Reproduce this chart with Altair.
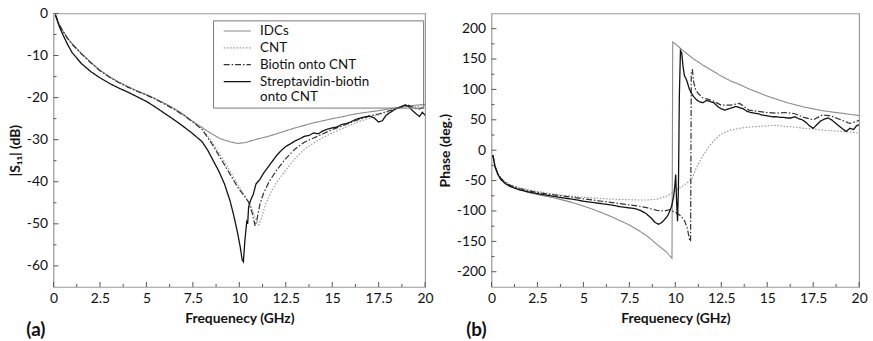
import altair as alt
import pandas as pd

SERIES = ["IDCs", "CNT", "Biotin onto CNT", "Streptavidin-biotin onto CNT"]
COLORS = ["#8a8a8a", "#9c9c9c", "#333333", "#111111"]
DASHES = [[1, 0], [1.6, 1.6], [6, 2, 1.5, 2], [1, 0]]
WIDTHS = [1.1, 1.3, 1.2, 2.6]

X_MAJOR = [0, 2.5, 5, 7.5, 10, 12.5, 15, 17.5, 20]
X_MINOR = [1.25, 3.75, 6.25, 8.75, 11.25, 13.75, 16.25, 18.75]

# ---------------- panel (a): |S11| (dB) ----------------
A_IDC_F = [0.1, 0.3, 0.5, 0.75, 1, 1.5, 2, 2.5, 3, 3.5, 4, 4.5, 5, 5.5, 6, 6.5, 7, 7.5, 8, 8.5, 9, 9.5, 9.9,
           10.3, 10.7, 11, 11.5, 12, 12.5, 13, 13.5, 14, 14.5, 15, 15.5, 16, 16.5, 17, 17.5, 18, 18.5, 19, 19.5, 20]
A_IDC_V = [-0.3, -2.5, -4.1, -5.8, -7.2, -9.5, -11.6, -13.5, -15.0, -16.3, -17.4, -18.4, -19.3, -20.3, -21.4,
           -22.6, -24.0, -25.7, -27.1, -28.6, -29.8, -30.5, -30.9, -30.7, -30.2, -29.8, -29.3, -28.6, -27.9,
           -27.2, -26.6, -26.0, -25.5, -25.0, -24.6, -24.1, -23.7, -23.4, -23.1, -22.7, -22.4, -22.1, -21.8, -21.6]

A_CNT_F = [0.1, 0.3, 0.5, 0.75, 1, 1.5, 2, 2.5, 3, 3.5, 4, 4.5, 5, 5.5, 6, 6.5, 7, 7.5, 8, 8.5, 9, 9.5, 9.9,
           10.3, 10.6, 10.85, 11.05, 11.2, 11.4, 11.7, 12, 12.5, 13, 13.5, 14, 14.5, 15, 15.5, 16, 16.5, 17,
           17.5, 18, 18.5, 19, 19.5, 20]
A_CNT_V = [-0.3, -2.5, -4.1, -5.8, -7.2, -9.5, -11.6, -13.5, -15.0, -16.3, -17.4, -18.4, -19.3, -20.3, -21.5,
           -22.7, -24.1, -25.7, -27.4, -30.3, -33.8, -37.4, -40.5, -43.4, -45.6, -48.5, -50.2, -48.5, -45.5,
           -42.5, -40.2, -37.2, -34.5, -32.3, -30.8, -29.5, -28.4, -27.4, -26.5, -25.6, -24.9, -24.1, -23.4,
           -22.6, -22.1, -22.2, -21.8]

A_BIO_F = [0.1, 0.3, 0.5, 0.75, 1, 1.5, 2, 2.5, 3, 3.5, 4, 4.5, 5, 5.5, 6, 6.5, 7, 7.5, 8, 8.5, 9, 9.5, 9.9,
           10.2, 10.5, 10.7, 10.85, 10.95, 11.1, 11.3, 11.6, 12, 12.5, 13, 13.5, 14, 14.5, 15, 15.5, 16, 16.5,
           17, 17.5, 18, 18.5, 19, 19.3, 19.6, 20]
A_BIO_V = [-0.3, -2.6, -4.2, -5.9, -7.3, -9.6, -11.7, -13.6, -15.1, -16.4, -17.5, -18.5, -19.4, -20.4, -21.6,
           -22.8, -24.2, -25.8, -27.6, -30.8, -34.5, -38.2, -41.2, -43.0, -44.8, -47.5, -50.5, -49.0, -45.5,
           -42.8, -40.0, -37.3, -34.5, -32.2, -30.6, -29.6, -28.6, -27.6, -26.8, -25.9, -25.1, -24.4, -23.9,
           -23.2, -22.6, -21.6, -22.2, -22.8, -22.3]

A_STR_F = [0.1, 0.3, 0.5, 0.75, 1, 1.5, 2, 2.5, 3, 3.5, 4, 4.5, 5, 5.5, 6, 6.5, 7, 7.5, 8, 8.3, 8.6, 8.9, 9.2,
           9.5, 9.7, 9.9, 10.05, 10.15, 10.22, 10.3, 10.4, 10.45, 10.5, 10.6, 10.75, 10.9, 11.1, 11.3, 11.5,
           11.75, 12, 12.25, 12.5, 12.75, 13, 13.25, 13.5, 13.75, 14, 14.25, 14.5, 14.75, 15, 15.25, 15.5,
           15.75, 16, 16.25, 16.5, 16.75, 17, 17.25, 17.5, 17.7, 17.9, 18.1, 18.3, 18.5, 18.7, 18.9, 19.1,
           19.3, 19.5, 19.7, 19.85, 20]
A_STR_V = [-0.3, -3.0, -5.0, -7.3, -9.3, -11.9, -13.8, -15.3, -16.6, -17.7, -18.7, -19.8, -20.9, -22.3, -23.8,
           -25.3, -26.9, -28.6, -30.5, -32.5, -35.0, -37.5, -40.5, -44.5, -48.0, -52.0, -55.5, -58.5, -59.0,
           -54.0, -49.5, -50.0, -46.0, -44.5, -43.0, -40.5, -39.5, -38.0, -36.8, -35.3, -33.8, -32.6, -31.6,
           -31.0, -30.3, -29.8, -29.2, -29.0, -28.4, -28.6, -27.9, -27.5, -27.2, -27.0, -26.4, -26.2, -25.8,
           -25.2, -24.9, -24.6, -24.4, -24.8, -25.8, -25.5, -24.2, -23.6, -23.0, -22.5, -22.2, -21.8, -22.0,
           -23.0, -23.8, -24.5, -23.5, -24.2]

# ---------------- panel (b): Phase (deg.) ----------------
B_IDC_F = [0.07, 0.2, 0.35, 0.5, 0.75, 1, 1.5, 2, 2.5, 3, 3.5, 4, 4.5, 5, 5.5, 6, 6.5, 7, 7.5, 8, 8.5, 9, 9.5,
           9.82, 9.86, 10, 10.5, 11, 11.5, 12, 12.5, 13, 13.5, 14, 14.5, 15, 15.5, 16, 16.5, 17, 17.5, 18,
           18.5, 19, 19.5, 20]
B_IDC_V = [-8, -28, -40, -47, -54, -59, -65, -69.5, -73, -76, -79, -83, -87, -92, -97, -103, -109, -116, -123,
           -132, -142, -155, -167, -178, 178, 175, 162, 150, 140, 131, 122, 114, 108, 101, 95, 89, 84, 79, 75,
           71, 68, 65, 63, 61, 59, 57]

B_CNT_F = [0.07, 0.2, 0.35, 0.5, 0.75, 1, 1.5, 2, 2.5, 3, 3.5, 4, 4.5, 5, 5.5, 6, 6.5, 7, 7.5, 8, 8.5, 9, 9.5,
           10, 10.5, 10.9, 11.1, 11.3, 11.5, 11.8, 12, 12.25, 12.5, 12.75, 13, 13.5, 14, 14.5, 15, 15.5, 16,
           16.5, 17, 17.5, 18, 18.5, 19, 19.5, 20]
B_CNT_V = [-8, -26, -38, -45, -52, -56.5, -61.5, -65, -68, -70.5, -72.5, -74.5, -76, -77.5, -78.5, -79.5, -80.5,
           -81, -81.5, -82, -82, -80.5, -76, -67, -57, -47, -32, -20, -9, 5, 12, 20, 26, 30, 33, 36, 38, 39,
           40, 41, 39, 38, 36, 35, 33, 32, 31, 30, 28]

B_BIO_F = [0.07, 0.2, 0.35, 0.5, 0.75, 1, 1.5, 2, 2.5, 3, 3.5, 4, 4.5, 5, 5.5, 6, 6.5, 7, 7.5, 8, 8.5, 9, 9.4,
           9.7, 9.9, 10.1, 10.3, 10.5, 10.65, 10.78, 10.83, 10.87, 10.93, 11.0, 11.1, 11.25, 11.5, 11.75, 12,
           12.5, 13, 13.5, 14, 14.5, 15, 15.5, 16, 16.5, 17, 17.5, 18, 18.5, 19, 19.5, 20]
B_BIO_V = [-8, -27, -39, -46, -53, -57.5, -63, -66.5, -69.5, -72, -74, -76, -78, -80, -82, -84, -86, -88, -90,
           -92, -95, -99, -100, -98, -101, -104, -108, -116, -128, -148, -150, 130, 132, 112, 100, 93, 86, 84,
           82, 74, 74, 77, 66, 64, 62, 61, 62, 60, 54, 50, 58, 56, 50, 44, 49]

B_STR_F = [0.07, 0.2, 0.35, 0.5, 0.75, 1, 1.5, 2, 2.5, 3, 3.5, 4, 4.5, 5, 5.5, 6, 6.5, 7, 7.5, 7.8, 8.1, 8.4,
           8.7, 8.9, 9.1, 9.3, 9.45, 9.6, 9.7, 9.8, 9.9, 9.97, 10.02, 10.07, 10.12, 10.17, 10.22, 10.28,
           10.35, 10.42, 10.5, 10.58, 10.65, 10.75, 10.85, 11, 11.15, 11.3, 11.5, 11.7, 11.9, 12.1, 12.3, 12.5,
           12.7, 12.9, 13.1, 13.3, 13.5, 13.7, 13.9, 14.1, 14.3, 14.5, 14.7, 14.9, 15.1, 15.3, 15.5, 15.7,
           15.9, 16.1, 16.3, 16.5, 16.7, 16.9, 17.1, 17.3, 17.5, 17.7, 17.9, 18.1, 18.3, 18.5, 18.7, 18.9,
           19.1, 19.3, 19.5, 19.7, 19.85, 20]
B_STR_V = [-8, -28, -40, -48, -55, -59.5, -65, -68.5, -71.5, -74, -76.5, -79, -81, -84, -86, -88, -90, -93, -95,
           -96, -99, -104, -112, -119, -122, -118, -113, -107, -100, -92, -78, -60, -40, -85, -117, -60, 90,
           164, 160, 138, 122, 118, 112, 102, 95, 88, 83, 80, 78, 82, 80, 78, 72, 68, 66, 68, 70, 72, 70, 68,
           64, 62, 61, 60, 58, 57, 56, 55, 55, 54, 54, 53, 53, 55, 52, 50, 46, 40, 36, 42, 48, 51, 53, 50, 45,
           40, 35, 31, 36, 34, 40, 42]

A_Y_MAJOR = [0, -10, -20, -30, -40, -50, -60]
A_Y_MINOR = [-5, -15, -25, -35, -45, -55]
B_Y_MAJOR = [200, 150, 100, 50, 0, -50, -100, -150, -200]
B_Y_MINOR = [175, 125, 75, 25, -25, -75, -125, -175]


def make_df(groups):
    rows = []
    for name, fs, vs in groups:
        for i, (f, v) in enumerate(zip(fs, vs)):
            rows.append({"series": name, "f": f, "v": v, "idx": i})
    return pd.DataFrame(rows)


df_a = make_df([(SERIES[0], A_IDC_F, A_IDC_V), (SERIES[1], A_CNT_F, A_CNT_V),
                (SERIES[2], A_BIO_F, A_BIO_V), (SERIES[3], A_STR_F, A_STR_V)])
df_b = make_df([(SERIES[0], B_IDC_F, B_IDC_V), (SERIES[1], B_CNT_F, B_CNT_V),
                (SERIES[2], B_BIO_F, B_BIO_V), (SERIES[3], B_STR_F, B_STR_V)])

FONT = "Lato"
TICKC = "#555555"
PAD = "\u2800"


def panel(df, ydom, ymaj, ymin, ytitle, label, label_dx, W, H, legend):
    xs = alt.Scale(domain=[0, 20], nice=False, zero=False)
    ys = alt.Scale(domain=ydom, nice=False, zero=False)
    if legend:
        leg = alt.Legend(title=None, orient="none", legendX=161, legendY=7,
                         symbolType="M0,0H5", symbolSize=120, labelFontSize=13.5, labelFont=FONT,
                         labelColor="#111", strokeColor="#777", padding=4, rowPadding=2,
                         labelLimit=400, labelOffset=30,
                         labelExpr="datum.label == 'Streptavidin-biotin onto CNT' ? ['Streptavidin-biotin" + PAD * 5 + "', 'onto CNT'] : datum.label")
    else:
        leg = None
    xt = "Frequenecy (GHz)"
    xaxis = alt.Axis(values=X_MAJOR, ticks=False, domain=False, grid=False, labelPadding=5,
                     titlePadding=6, labelFlush=False, labelExpr="'' + datum.value", title=xt)
    yaxis = alt.Axis(values=ymaj, ticks=False, domain=False, grid=False, labelPadding=6,
                     titlePadding=4, labelExpr="'' + datum.value", title=ytitle)
    lines = alt.Chart(df).mark_line(clip=True).encode(
        x=alt.X("f:Q", scale=xs, axis=xaxis),
        y=alt.Y("v:Q", scale=ys, axis=yaxis),
        color=alt.Color("series:N", scale=alt.Scale(domain=SERIES, range=COLORS), legend=leg),
        strokeDash=alt.StrokeDash("series:N", scale=alt.Scale(domain=SERIES, range=DASHES), legend=leg),
        strokeWidth=alt.StrokeWidth("series:N", scale=alt.Scale(domain=SERIES, range=WIDTHS), legend=leg),
        order=alt.Order("idx:Q"),
    )
    layers = [lines]
    for vals, size in ((X_MAJOR, 5), (X_MINOR, 3)):
        layers.append(alt.Chart(pd.DataFrame({"f": vals})).mark_rule(color=TICKC, strokeWidth=1).encode(
            x=alt.X("f:Q", scale=xs, axis=xaxis), y=alt.value(H), y2=alt.value(H - size)))
    for vals, size in ((ymaj, 5), (ymin, 3)):
        layers.append(alt.Chart(pd.DataFrame({"v": vals})).mark_rule(color=TICKC, strokeWidth=1).encode(
            y=alt.Y("v:Q", scale=ys, axis=yaxis), x=alt.value(0), x2=alt.value(size)))
    return alt.layer(*layers).properties(
        width=W, height=H,
        title=alt.TitleParams(text=label, orient="bottom", anchor="start", frame="bounds", fontSize=19,
                              fontWeight="bold", font=FONT, dx=label_dx, offset=-4, color="#111"),
    )


pa = panel(df_a, [-65, 0], A_Y_MAJOR, A_Y_MINOR, "|S₁₁| (dB)", "(a)", 18, 375, 276, True)
pb = panel(df_b, [-225, 225], B_Y_MAJOR, B_Y_MINOR, "Phase (deg.)", "(b)", 28, 371, 276, False)

chart = alt.hconcat(pa, pb, spacing=3).configure(
    padding={"left": 7, "top": 4, "right": 5, "bottom": 0},
).configure_view(stroke="#999999", strokeWidth=1.2).configure_axis(
    labelFont=FONT, labelFontSize=14, labelColor="#111", titleFont=FONT, titleFontSize=14,
    titleFontWeight="bold", titleColor="#111",
)

chart.save("out.html", embed_options={"renderer": "svg", "actions": False})
